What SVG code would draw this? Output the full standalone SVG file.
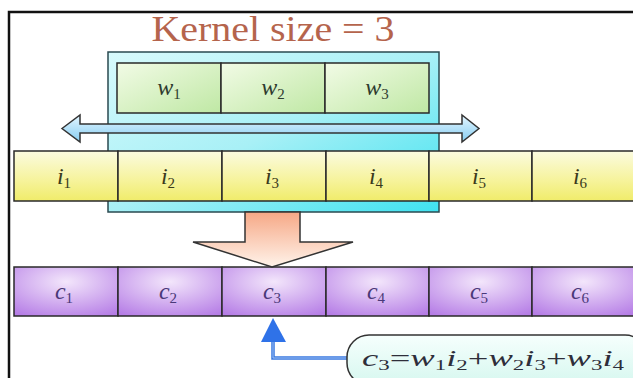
<svg xmlns="http://www.w3.org/2000/svg" width="633" height="378" viewBox="0 0 633 378">
<style>
.cell{stroke:#2a2a2a;stroke-width:1.5}
.lbl{font-family:"Liberation Serif","DejaVu Serif",serif;font-style:italic;font-size:24px;text-anchor:middle}
.sub{font-style:normal;font-size:15px}
.w{fill:#2e3b2e}
.i{fill:#3a3a1c}
.c{fill:#4a3878}
</style>
<defs>
<linearGradient id="gCyan" x1="0" y1="0" x2="1" y2="1">
<stop offset="0" stop-color="#d8fafc"/><stop offset="0.5" stop-color="#a8f0f6"/><stop offset="1" stop-color="#3fe2f0"/>
</linearGradient>
<linearGradient id="gGreen" x1="0" y1="0" x2="1" y2="1">
<stop offset="0" stop-color="#f2fbe6"/><stop offset="1" stop-color="#bfe8a4"/>
</linearGradient>
<linearGradient id="gYellow" x1="0" y1="0" x2="0" y2="1">
<stop offset="0" stop-color="#fbfbe0"/><stop offset="0.6" stop-color="#f6f39a"/><stop offset="1" stop-color="#f0ec6a"/>
</linearGradient>
<radialGradient id="gPurple" cx="0.5" cy="0.3" r="0.8">
<stop offset="0" stop-color="#f3e6fb"/><stop offset="1" stop-color="#b67ee6"/>
</radialGradient>
<linearGradient id="gOrange" x1="0" y1="0" x2="0" y2="1">
<stop offset="0" stop-color="#f6a886"/><stop offset="1" stop-color="#fff3ea"/>
</linearGradient>
<linearGradient id="gBlueArrow" x1="0" y1="0" x2="0" y2="1">
<stop offset="0" stop-color="#e4f6ff"/><stop offset="1" stop-color="#86cdf2"/>
</linearGradient>
<linearGradient id="gBubble" x1="0" y1="0" x2="0" y2="1">
<stop offset="0" stop-color="#f6fffd"/><stop offset="1" stop-color="#d6f7ef"/>
</linearGradient>
</defs>

<rect x="0" y="0" width="633" height="378" fill="#ffffff"/>
<rect id="frame" x="9" y="12" width="640" height="380" fill="none" stroke="#111" stroke-width="2.5"/>

<text id="title" x="273" y="41" font-family="'Liberation Serif','DejaVu Serif',serif" font-size="36" fill="#b5644c" text-anchor="middle" textLength="243" lengthAdjust="spacingAndGlyphs">Kernel size = 3</text>

<g id="kernel-window">
<rect x="108" y="52" width="331" height="160" fill="url(#gCyan)" stroke="#2a4a50" stroke-width="1.5"/>
</g>

<g id="weights">
<g id="w1"><rect class="cell" x="117" y="63" width="104" height="50" fill="url(#gGreen)"/><text class="lbl w" x="169" y="95">w<tspan class="sub" dy="4">1</tspan></text></g>
<g id="w2"><rect class="cell" x="221" y="63" width="104" height="50" fill="url(#gGreen)"/><text class="lbl w" x="273" y="95">w<tspan class="sub" dy="4">2</tspan></text></g>
<g id="w3"><rect class="cell" x="325" y="63" width="104" height="50" fill="url(#gGreen)"/><text class="lbl w" x="377" y="95">w<tspan class="sub" dy="4">3</tspan></text></g>
</g>

<g id="inputs">
<g id="i1"><rect class="cell" x="14" y="151" width="104" height="50" fill="url(#gYellow)"/><text class="lbl i" x="64" y="184">i<tspan class="sub" dy="4">1</tspan></text></g>
<g id="i2"><rect class="cell" x="118" y="151" width="104" height="50" fill="url(#gYellow)"/><text class="lbl i" x="168" y="184">i<tspan class="sub" dy="4">2</tspan></text></g>
<g id="i3"><rect class="cell" x="222" y="151" width="104" height="50" fill="url(#gYellow)"/><text class="lbl i" x="272" y="184">i<tspan class="sub" dy="4">3</tspan></text></g>
<g id="i4"><rect class="cell" x="326" y="151" width="103" height="50" fill="url(#gYellow)"/><text class="lbl i" x="376" y="184">i<tspan class="sub" dy="4">4</tspan></text></g>
<g id="i5"><rect class="cell" x="429" y="151" width="103" height="50" fill="url(#gYellow)"/><text class="lbl i" x="479" y="184">i<tspan class="sub" dy="4">5</tspan></text></g>
<g id="i6"><rect class="cell" x="532" y="151" width="103" height="50" fill="url(#gYellow)"/><text class="lbl i" x="580" y="184">i<tspan class="sub" dy="4">6</tspan></text></g>
</g>

<g id="outputs">
<g id="c1"><rect class="cell" x="14" y="267" width="104" height="49" fill="url(#gPurple)"/><text class="lbl c" x="64" y="299">c<tspan class="sub" dy="4">1</tspan></text></g>
<g id="c2"><rect class="cell" x="118" y="267" width="104" height="49" fill="url(#gPurple)"/><text class="lbl c" x="168" y="299">c<tspan class="sub" dy="4">2</tspan></text></g>
<g id="c3"><rect class="cell" x="222" y="267" width="104" height="49" fill="url(#gPurple)"/><text class="lbl c" x="272" y="299">c<tspan class="sub" dy="4">3</tspan></text></g>
<g id="c4"><rect class="cell" x="326" y="267" width="103" height="49" fill="url(#gPurple)"/><text class="lbl c" x="376" y="299">c<tspan class="sub" dy="4">4</tspan></text></g>
<g id="c5"><rect class="cell" x="429" y="267" width="103" height="49" fill="url(#gPurple)"/><text class="lbl c" x="479" y="299">c<tspan class="sub" dy="4">5</tspan></text></g>
<g id="c6"><rect class="cell" x="532" y="267" width="103" height="49" fill="url(#gPurple)"/><text class="lbl c" x="580" y="299">c<tspan class="sub" dy="4">6</tspan></text></g>
</g>

<g id="connectors">
<path id="slide-arrow" d="M62,128.5 L80,115 L80,124 L462,124 L462,115 L479,128.5 L462,142 L462,133 L80,133 L80,142 Z" fill="url(#gBlueArrow)" stroke="#333" stroke-width="1.5" stroke-linejoin="miter"/>
<path id="conv-arrow" d="M245,212 L300,212 L300,242 L353,242 L272,267 L193,242 L245,242 Z" fill="url(#gOrange)" stroke="#333" stroke-width="1.5"/>
<g id="formula-arrow">
<polyline points="273,340 273,358 348,358" fill="none" stroke="#3a78e0" stroke-width="3.5"/>
<polyline points="273,340 273,358 348,358" fill="none" stroke="#9cc0f4" stroke-width="1"/>
<polygon points="273,318 261,342 286,342" fill="#2f72e8"/>
</g>
</g>

<g id="formula">
<rect x="347" y="335" width="300" height="50" rx="22" ry="22" fill="url(#gBubble)" stroke="#333" stroke-width="1.5"/>
<text x="362" y="366" font-family="'Liberation Serif','DejaVu Serif',serif" font-style="italic" font-size="24" fill="#2e2e3a" textLength="262" lengthAdjust="spacingAndGlyphs">c<tspan class="sub" dy="4">3</tspan><tspan dy="-4" font-style="normal">=</tspan>w<tspan class="sub" dy="4">1</tspan><tspan dy="-4">i</tspan><tspan class="sub" dy="4">2</tspan><tspan dy="-4" font-style="normal">+</tspan>w<tspan class="sub" dy="4">2</tspan><tspan dy="-4">i</tspan><tspan class="sub" dy="4">3</tspan><tspan dy="-4" font-style="normal">+</tspan>w<tspan class="sub" dy="4">3</tspan><tspan dy="-4">i</tspan><tspan class="sub" dy="4">4</tspan></text>
</g>
</svg>
